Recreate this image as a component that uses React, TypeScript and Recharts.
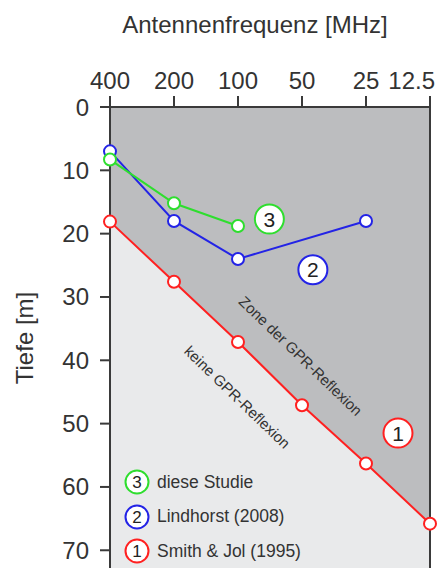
import React from 'react';
import {
  ComposedChart, Line, Area, XAxis, YAxis, ReferenceArea, ReferenceLine,
  ReferenceDot, Legend, Customized,
} from 'recharts';

const freqLabels = ['400', '200', '100', '50', '25', '12.5'];
const smithJol = [18.1, 27.6, 37.1, 47.1, 56.3, 65.8];
const lindhorst: (number | null)[] = [7, 18, 24, null, 18, null];
const dieseStudie: (number | null)[] = [8.3, 15.2, 18.8, null, null, null];
const depthTicks = [0, 10, 20, 30, 40, 50, 60, 70];

const RED = '#ff2020';
const BLUE = '#2323e6';
const GREEN = '#2ede2e';
const DARK = '#bcbdbf';
const LIGHT = '#e9eaeb';
const TXT = '#333333';
const FONT = '"Liberation Sans", Arial, sans-serif';

const seriesInfo = [
  { num: '3', name: 'diese Studie', color: GREEN },
  { num: '2', name: 'Lindhorst (2008)', color: BLUE },
  { num: '1', name: 'Smith & Jol (1995)', color: RED },
];

const annotations = [
  { num: '3', color: GREEN, x: 2.49, y: 17.7 },
  { num: '2', color: BLUE, x: 3.17, y: 25.7 },
  { num: '1', color: RED, x: 4.5, y: 51.5 },
];

const zoneLabels = [
  { text: 'Zone der GPR-Reflexion', x: 2.98, y: 39.3 },
  { text: 'keine GPR-Reflexion', x: 1.99, y: 45.8 },
];

const data = freqLabels.map((f, i) => ({
  idx: i,
  smith: smithJol[i],
  lind: lindhorst[i],
  diese: dieseStudie[i],
}));

const dot = (color: string) => ({ r: 6, fill: '#fff', stroke: color, strokeWidth: 2 });

const NumCircle = (props: any) => {
  const { cx, cy, num, color, r = 14.5, fs = 21 } = props;
  return (
    <g>
      <circle cx={cx} cy={cy} r={r} fill="#fff" stroke={color} strokeWidth={2} />
      <text x={cx} y={cy} textAnchor="middle" dominantBaseline="central" fontSize={fs} fill="#222" fontFamily={FONT}>
        {num}
      </text>
    </g>
  );
};

const FreqTick = (props: any) => {
  const { x, y, payload } = props;
  const last = payload.value === freqLabels.length - 1;
  return (
    <text
      x={last ? x + 5 : x}
      y={y}
      textAnchor={last ? 'end' : 'middle'}
      fontSize={24}
      fill={TXT}
      fontFamily={FONT}
    >
      {freqLabels[payload.value]}
    </text>
  );
};

const LegendContent = () => (
  <div style={{ fontFamily: FONT, color: TXT, fontSize: 17.5 }}>
    {seriesInfo.map((s) => (
      <div key={s.num} style={{ display: 'flex', alignItems: 'center', height: 34.5 }}>
        <svg width={26} height={26} style={{ display: 'block' }}>
          <circle cx={13} cy={13} r={11.5} fill="#fff" stroke={s.color} strokeWidth={2} />
          <text x={13} y={13} textAnchor="middle" dominantBaseline="central" fontSize={17} fill="#222" fontFamily={FONT}>
            {s.num}
          </text>
        </svg>
        <span style={{ marginLeft: 7, whiteSpace: 'nowrap' }}>{s.name}</span>
      </div>
    ))}
  </div>
);

const Titles = () => (
  <g fontFamily={FONT} fill={TXT}>
    <text x={255} y={33} textAnchor="middle" fontSize={24} fill={TXT}>Antennenfrequenz [MHz]</text>
    <text x={33} y={338} textAnchor="middle" fontSize={24} fill={TXT} transform="rotate(-90, 33, 338)">Tiefe [m]</text>
  </g>
);

export default function App() {
  return (
    <div style={{ position: 'absolute', left: 0, top: 0, background: '#fff' }}>
      <ComposedChart
        width={448}
        height={568}
        data={data}
        margin={{ top: 67, right: 18, bottom: 0, left: 40 }}
      >
        <XAxis
          dataKey="idx"
          type="number"
          orientation="top"
          domain={[0, 5]}
          ticks={[0, 1, 2, 3, 4, 5]}
          height={40}
          tickSize={11}
          tickMargin={7}
          axisLine={{ stroke: '#3a3a3a', strokeWidth: 2 }}
          tickLine={{ stroke: '#3a3a3a', strokeWidth: 2 }}
          tick={<FreqTick />}
          interval={0}
        />
        <YAxis
          type="number"
          reversed
          domain={[0, 72.8]}
          allowDataOverflow
          ticks={depthTicks}
          width={70}
          tickSize={10}
          tickMargin={11}
          axisLine={{ stroke: '#3a3a3a', strokeWidth: 2 }}
          tickLine={{ stroke: '#3a3a3a', strokeWidth: 2 }}
          tick={{ fontSize: 24, fill: TXT, fontFamily: FONT }}
          interval={0}
        />
        <ReferenceArea x1={0} x2={5} y1={0} y2={72.8} fill={LIGHT} fillOpacity={1} stroke="none" ifOverflow="hidden" />
        <Area
          dataKey="smith"
          type="linear"
          baseValue={0}
          fill={DARK}
          fillOpacity={1}
          stroke="none"
          isAnimationActive={false}
          dot={false}
          activeDot={false}
        />
        <ReferenceLine x={5} stroke="#3a3a3a" strokeWidth={2} />
        {zoneLabels.map((z) => (
          <ReferenceDot
            key={z.text}
            x={z.x}
            y={z.y}
            r={0}
            shape={(p: any) => (
              <text
                x={p.cx}
                y={p.cy}
                textAnchor="middle"
                dominantBaseline="central"
                fontSize={15}
                fill={TXT}
                fontFamily={FONT}
                transform={`rotate(44, ${p.cx}, ${p.cy})`}
              >
                {z.text}
              </text>
            )}
          />
        ))}
        <Line dataKey="smith" type="linear" stroke={RED} strokeWidth={2} dot={dot(RED)} activeDot={false} isAnimationActive={false} />
        <Line dataKey="lind" type="linear" stroke={BLUE} strokeWidth={2} dot={dot(BLUE)} activeDot={false} connectNulls isAnimationActive={false} />
        <Line dataKey="diese" type="linear" stroke={GREEN} strokeWidth={2} dot={dot(GREEN)} activeDot={false} isAnimationActive={false} />
        {annotations.map((a) => (
          <ReferenceDot
            key={a.num}
            x={a.x}
            y={a.y}
            r={14.5}
            shape={(p: any) => <NumCircle cx={p.cx} cy={p.cy} num={a.num} color={a.color} />}
          />
        ))}
        <Legend
          layout="vertical"
          align="center"
          verticalAlign="middle"
          content={<LegendContent />}
          wrapperStyle={{ left: 124, top: 465, width: 'auto', height: 'auto' }}
        />
        <Customized component={<Titles />} />
      </ComposedChart>
    </div>
  );
}
